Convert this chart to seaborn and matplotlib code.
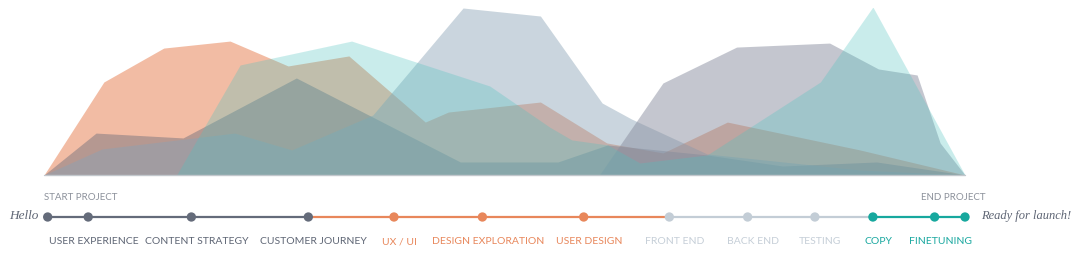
import numpy as np
import pandas as pd
import matplotlib
matplotlib.use("Agg")
import matplotlib.pyplot as plt
import seaborn as sns

# ---------------- data ----------------
# project timeline position (% of project) and workload (% of peak)
orange_t = [0, 6.5, 13.0, 20.2, 26.5, 33.1, 41.4, 43.9, 53.9, 61.1, 67.2, 74.2, 88.6, 100]
orange_v = [0, 55.7, 76.0, 80.2, 65.3, 71.3, 31.7, 37.7, 43.7, 19.2, 13.2, 31.7, 15.0, 0]

dark_t = [0, 5.65, 15.1, 27.4, 45.2, 55.8, 61.2, 72.0, 80.2, 90.4, 100]
dark_v = [0, 25.1, 22.2, 58.1, 7.8, 7.8, 18.0, 12.0, 5.4, 7.8, 0]

steel_t = [0, 6.3, 20.7, 26.9, 35.7, 45.5, 53.9, 60.6, 63.8, 72.0, 88.6, 100]
steel_v = [0, 15.6, 25.1, 15.0, 35.9, 100, 95.2, 43.1, 33.5, 12.6, 3.0, 0]

slate_t = [60.3, 67.2, 75.2, 85.3, 90.6, 94.8, 97.3, 100]
slate_v = [0, 55.1, 76.6, 79.0, 63.5, 59.9, 19.2, 0]

cyan_t = [14.4, 21.3, 33.4, 48.4, 54.9, 57.3, 61.2, 64.7, 72.0, 84.3, 90.0, 100]
cyan_v = [0, 65.9, 80.2, 53.3, 28.7, 21.0, 18.0, 7.2, 12.0, 55.7, 100.6, 0]

milestones = [0.4, 4.8, 16.0, 28.7, 38.0, 47.6, 58.6, 67.9, 76.4, 83.7, 90.0, 96.7, 100]
milestone_phase = ["ux", "ux", "ux", "ux", "design", "design", "design",
                   "dev", "dev", "dev", "launch", "launch", "launch"]
milestone_labels = ["", "USER EXPERIENCE", "CONTENT STRATEGY", "CUSTOMER JOURNEY",
                    "UX / UI", "DESIGN EXPLORATION", "USER DESIGN",
                    "FRONT END", "BACK END", "TESTING", "COPY", "FINETUNING", ""]
# segment colours follow phases
segment_phase = ["ux", "ux", "ux", "design", "design", "design", "design",
                 "dev", "dev", "dev", "launch", "launch"]

# ---------------- style ----------------
sns.set_theme(style="white")
plt.rcParams["font.family"] = ["Lato", "DejaVu Sans"]

phase_colors = {"ux": "#646B7A", "design": "#E8875B", "dev": "#C3CDD6", "launch": "#17A89E"}
label_colors = {"ux": "#5F6675", "design": "#E8875B", "dev": "#C6CFD8", "launch": "#1BA8A0"}

W, H = 1079, 259
fig = plt.figure(figsize=(W / 100, H / 100), dpi=100)

x0, x1 = 44, 965
ax = fig.add_axes([x0 / W, (H - 175) / H, (x1 - x0) / W, (175 - 8) / H])
ax.set_xlim(0, 100)
ax.set_ylim(0, 100)
ax.set_axis_off()

def area(t, v, color, alpha, z):
    ax.fill_between(t, 0, v, color=color, alpha=alpha, lw=0, zorder=z)

area(orange_t, orange_v, "#E8865A", 0.55, 1)
area(dark_t, dark_v, "#5A6275", 0.40, 2)
area(steel_t, steel_v, "#8AA3B6", 0.45, 3)
area(slate_t, slate_v, "#8A8FA0", 0.50, 4)
area(cyan_t, cyan_v, "#4FC3C0", 0.30, 5)
ax.plot([0, 100], [0, 0], color="#C2C7CC", lw=1, zorder=6, clip_on=False)

# timeline axes
tax = fig.add_axes([x0 / W, 0, (x1 - x0) / W, (H - 176) / H])
tax.set_xlim(0, 100)
tax.set_ylim(H - 176, 0)
tax.set_axis_off()
ty = 217 - 176

for i, ph in enumerate(segment_phase):
    seg = pd.DataFrame({"t": [milestones[i], milestones[i + 1]], "y": [ty, ty]})
    sns.lineplot(data=seg, x="t", y="y", color=phase_colors[ph], lw=1.6, ax=tax,
                 legend=False, zorder=2)

mdf = pd.DataFrame({"t": milestones, "y": [ty] * len(milestones), "phase": milestone_phase})
sns.scatterplot(data=mdf, x="t", y="y", hue="phase", palette=phase_colors, s=45,
                edgecolor="none", legend=False, ax=tax, zorder=3, clip_on=False)
tax.set_xlabel("")
tax.set_ylabel("")

for t, lab, ph in zip(milestones, milestone_labels, milestone_phase):
    if lab:
        tax.text(t + 0.6, 242 - 176, lab, ha="center", va="center", fontsize=7.5,
                 color=label_colors[ph])

tax.text(milestones[0] - 0.4, 197 - 176, "START PROJECT", ha="left", va="center",
         fontsize=7, color="#8C919B")
tax.text(milestones[-1] + 2.2, 197 - 176, "END PROJECT", ha="right", va="center",
         fontsize=7, color="#8C919B")

fig.text(9 / W, 1 - 216 / H, "Hello", ha="left", va="center", fontsize=9.5,
         style="italic", family="Liberation Serif", color="#5F6675")
fig.text(981 / W, 1 - 216 / H, "Ready for launch!", ha="left", va="center", fontsize=9,
         style="italic", family="Liberation Serif", color="#5F6675")

fig.savefig("out.png", dpi=100)
